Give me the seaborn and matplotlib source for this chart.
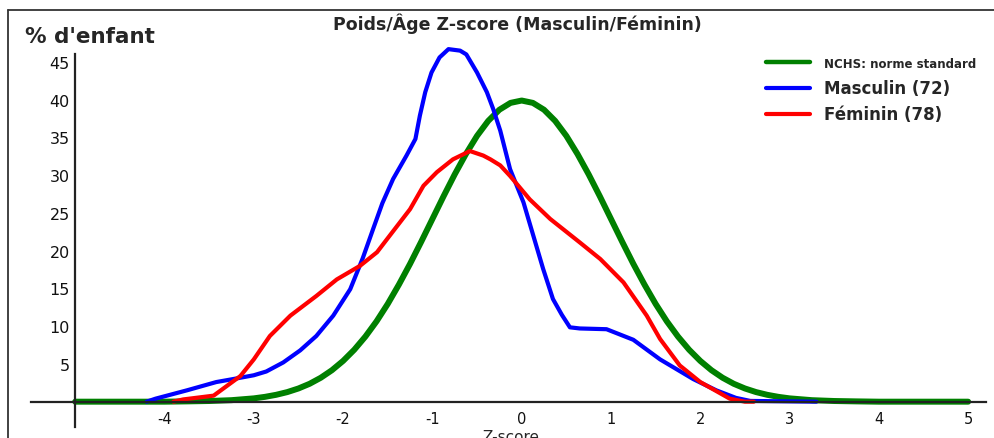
import numpy as np
import pandas as pd
import matplotlib
matplotlib.use("Agg")
import matplotlib.pyplot as plt
from matplotlib.lines import Line2D
import seaborn as sns

# NCHS reference curve
x_nchs = [-5.0, -4.5, -4.0, -3.75, -3.5, -3.25, -3.0, -2.875, -2.75, -2.625, -2.5,
          -2.375, -2.25, -2.125, -2.0, -1.875, -1.75, -1.625, -1.5, -1.375, -1.25,
          -1.125, -1.0, -0.875, -0.75, -0.625, -0.5, -0.375, -0.25, -0.125, 0.0,
          0.125, 0.25, 0.375, 0.5, 0.625, 0.75, 0.875, 1.0, 1.125, 1.25, 1.375,
          1.5, 1.625, 1.75, 1.875, 2.0, 2.125, 2.25, 2.375, 2.5, 2.625, 2.75,
          2.875, 3.0, 3.25, 3.5, 3.75, 4.0, 4.5, 5.0]
y_nchs = [0.0, 0.0, 0.0, 0.04, 0.09, 0.2, 0.44, 0.64, 0.91, 1.27, 1.75,
          2.37, 3.17, 4.17, 5.4, 6.88, 8.63, 10.65, 12.95, 15.51, 18.26,
          21.19, 24.2, 27.21, 30.11, 32.8, 35.21, 37.19, 38.67, 39.58, 39.89,
          39.58, 38.67, 37.19, 35.21, 32.8, 30.11, 27.21, 24.2, 21.19, 18.26, 15.51,
          12.95, 10.65, 8.63, 6.88, 5.4, 4.17, 3.17, 2.37, 1.75, 1.27, 0.91,
          0.64, 0.44, 0.2, 0.09, 0.04, 0.0, 0.0, 0.0]

# Masculin (72)
x_masc = [-4.2, -4.1, -3.75, -3.42, -3.23, -3.0, -2.86, -2.67, -2.48, -2.3, -2.11,
          -1.92, -1.78, -1.66, -1.56, -1.44, -1.29, -1.19, -1.14, -1.08, -1.01, -0.92,
          -0.82, -0.69, -0.62, -0.5, -0.39, -0.32, -0.24, -0.13, 0.02, 0.13, 0.24,
          0.35, 0.45, 0.54, 0.65, 0.95, 1.25, 1.55, 1.92, 2.18, 2.4, 2.56, 3.3]
y_masc = [0.0, 0.4, 1.5, 2.6, 3.0, 3.5, 4.0, 5.2, 6.8, 8.7, 11.4,
          14.9, 19.0, 23.0, 26.3, 29.5, 32.6, 34.8, 37.9, 41.0, 43.6, 45.6,
          46.7, 46.5, 46.0, 43.6, 41.0, 38.8, 35.9, 30.8, 26.4, 22.0, 17.6,
          13.6, 11.5, 9.85, 9.7, 9.6, 8.2, 5.6, 3.0, 1.5, 0.5, 0.1, 0.0]

# Feminin (78)
x_fem = [-3.9, -3.79, -3.45, -3.15, -3.0, -2.82, -2.59, -2.3, -2.07, -1.81, -1.62,
         -1.51, -1.25, -1.1, -0.95, -0.77, -0.58, -0.43, -0.35, -0.24, -0.13, 0.09,
         0.32, 0.65, 0.88, 1.14, 1.4, 1.55, 1.77, 2.0, 2.33, 2.5, 2.6]
y_fem = [0.0, 0.3, 0.8, 3.4, 5.6, 8.7, 11.4, 14.0, 16.2, 18.0, 19.8,
         21.5, 25.5, 28.6, 30.4, 32.1, 33.2, 32.6, 32.1, 31.3, 29.9, 26.8,
         24.2, 21.1, 18.9, 15.8, 11.4, 8.3, 4.8, 2.6, 0.4, 0.0, 0.0]

labels = ["NCHS: norme standard", "Masculin (72)", "F\u00e9minin (78)"]
colors = ["#008000", "#0000ff", "#ff0000"]

sns.set_style("white")
plt.rcParams['font.family'] = ['DejaVu Sans']

fig = plt.figure(figsize=(9.94, 4.39), dpi=100)
ax = fig.add_axes([0, 0, 1, 1])

sns.lineplot(x=x_nchs, y=y_nchs, ax=ax, color=colors[0], linewidth=4.3,
             label=labels[0], sort=False)
sns.lineplot(x=x_masc, y=y_masc, ax=ax, color=colors[1], linewidth=3.0,
             label=labels[1], sort=False)
sns.lineplot(x=x_fem, y=y_fem, ax=ax, color=colors[2], linewidth=3.0,
             label=labels[2], sort=False)
for ln in ax.get_lines():
    ln.set_solid_joinstyle('round')

ax.set_xlim(-5.842, 5.289)
ax.set_ylim(-4.81, 53.34)
ax.set_facecolor('white')

for s in ['top', 'right']:
    ax.spines[s].set_visible(False)
ax.spines['left'].set_position(('data', -5))
ax.spines['left'].set_bounds(-3.3, 46)
ax.spines['bottom'].set_position(('data', 0))
ax.spines['bottom'].set_bounds(-5.5, 5.2)
for s in ['left', 'bottom']:
    ax.spines[s].set_color('#222222')
    ax.spines[s].set_linewidth(1.6)

ax.set_xticks([-4, -3, -2, -1, 0, 1, 2, 3, 4, 5])
ax.set_xticklabels(['-4', '-3', '-2', '-1', '0', '1', '2', '3', '4', '5'])
ax.set_yticks([5, 10, 15, 20, 25, 30, 35, 40, 45])
ax.tick_params(axis='x', direction='inout', length=12, width=1.4, color='#222222',
               labelsize=10.5, pad=1, labelcolor='#111111')
ax.tick_params(axis='y', direction='inout', length=10, width=1.4, color='#222222',
               labelsize=11.5, pad=-1, labelcolor='#111111')
ax.set_xlabel('')
ax.set_ylabel('')

leg = ax.legend(loc='upper left', bbox_to_anchor=(766 / 994, 1 - 58 / 439),
                bbox_transform=fig.transFigure, frameon=False, handlelength=3.2,
                handletextpad=1.0, labelspacing=0.62, borderpad=0, borderaxespad=0)
sizes = [8.5, 12, 12]
for t, fs in zip(leg.get_texts(), sizes):
    t.set_fontsize(fs)
    t.set_fontweight('bold')
for h, lw in zip(leg.get_lines(), [3.2, 3.0, 3.0]):
    h.set_linewidth(lw)

fig.text(517 / 994, 1 - 24 / 439, "Poids/\u00c2ge Z-score (Masculin/F\u00e9minin)",
         ha='center', va='center', fontsize=12.5, fontweight='bold')
fig.text(25 / 994, 1 - 37 / 439, "% d'enfant", ha='left', va='center',
         fontsize=15.5, fontweight='bold')
fig.text(511 / 994, 1 - 438 / 439, "Z-score", ha='center', va='center', fontsize=11)

# outer frame (left and top edges visible)
fig.add_artist(Line2D([8 / 994, 8 / 994], [0, 1 - 11 / 439], transform=fig.transFigure,
                      color='#333333', linewidth=1.3))
fig.add_artist(Line2D([8 / 994, 1], [1 - 11 / 439, 1 - 11 / 439], transform=fig.transFigure,
                      color='#333333', linewidth=1.3))

plt.savefig('out.png', dpi=100)
